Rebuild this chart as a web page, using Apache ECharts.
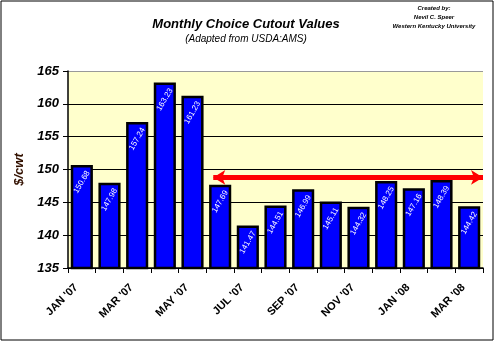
<!DOCTYPE html>
<html><head><meta charset="utf-8">
<script src="https://cdn.jsdelivr.net/npm/echarts@6/dist/echarts.min.js"></script>
<style>html,body{margin:0;padding:0;background:#fff}#c{width:497px;height:344px}</style>
</head><body><div id="c"></div>
<script>
const categories = ["JAN '07","FEB '07","MAR '07","APR '07","MAY '07","JUN '07","JUL '07","AUG '07","SEP '07","OCT '07","NOV '07","DEC '07","JAN '08","FEB '08","MAR '08"];
const values = [150.68,147.98,157.24,163.23,161.23,147.69,141.47,144.51,146.99,145.11,144.32,148.25,147.16,148.39,144.42];
const arrowLevel = 148.8;
const arrowStart = 4.75;
const arrowEnd = 14.5;

const chart = echarts.init(document.getElementById('c'), null, {renderer:'canvas'});
const F = 'Liberation Sans, Arial, sans-serif';
chart.setOption({
  animation:false,
  backgroundColor:'#fff',
  graphic:[
    {type:'rect', shape:{x:1,y:1,width:492,height:339}, style:{fill:null, stroke:'#000', lineWidth:1}, z:-1},
    {type:'text', style:{text:'Created by:', x:434, y:5, fill:'#000', font:'bold italic 6px '+F, align:'center'}},
    {type:'text', style:{text:'Nevil C. Speer', x:434, y:14, fill:'#000', font:'bold italic 6px '+F, align:'center'}},
    {type:'text', style:{text:'Western Kentucky University', x:434, y:23, fill:'#000', font:'bold italic 6px '+F, align:'center'}},
    {type:'text', style:{text:'Monthly Choice Cutout Values', x:246, y:18, fill:'#000', font:'bold italic 13px '+F, align:'center'}},
    {type:'text', style:{text:'(Adapted from USDA:AMS)', x:246, y:34, fill:'#000', font:'italic 10px '+F, align:'center'}}
  ],
  grid:{left:68, right:14, top:71, bottom:76, show:true, backgroundColor:'#FFFFCC', borderWidth:0},
  xAxis:[{
    type:'category', data:categories,
    axisLine:{lineStyle:{color:'#000', width:1.5}},
    axisTick:{show:true, alignWithLabel:false, interval:0, length:5, lineStyle:{color:'#000'}},
    axisLabel:{interval:1, rotate:45, fontFamily:F, fontWeight:'bold', fontSize:11, color:'#000', margin:12, padding:[0,8,0,0]}
  },{
    type:'value', min:-0.5, max:14.5, show:false
  }],
  yAxis:{
    type:'value', min:135, max:165, interval:5,
    name:'$/cwt', nameLocation:'middle', nameGap:37, nameRotate:90,
    nameTextStyle:{fontFamily:F, fontWeight:'bold', fontStyle:'italic', fontSize:13, color:'#331100'},
    axisLine:{show:true, onZero:false, lineStyle:{color:'#000', width:1.5}},
    axisTick:{show:true, length:5, lineStyle:{color:'#000'}},
    axisLabel:{fontFamily:F, fontWeight:'bold', fontStyle:'italic', fontSize:13, color:'#000', margin:9},
    splitLine:{show:true, lineStyle:{color:['#000','#000','#000','#000','#000','#000','#999'], width:1}}
  },
  series:[{
    type:'bar', data:values, xAxisIndex:0, barCategoryGap:'20%',
    itemStyle:{color:'#0000FF', borderColor:'#000', borderWidth:2.5},
    label:{show:true, position:['50%',17], rotate:60, align:'center', verticalAlign:'middle',
      formatter:p=>p.value.toFixed(2), color:'#fff', fontFamily:F, fontSize:8}
  },{
    type:'line', xAxisIndex:1, data:[], symbol:'none',
    markLine:{silent:true, symbol:['arrow','arrow'], symbolSize:[11,12], label:{show:false},
      lineStyle:{color:'#FF0000', width:5, type:'solid'},
      data:[[{coord:[arrowStart, arrowLevel]},{coord:[arrowEnd, arrowLevel]}]]}
  }]
});
</script></body></html>
